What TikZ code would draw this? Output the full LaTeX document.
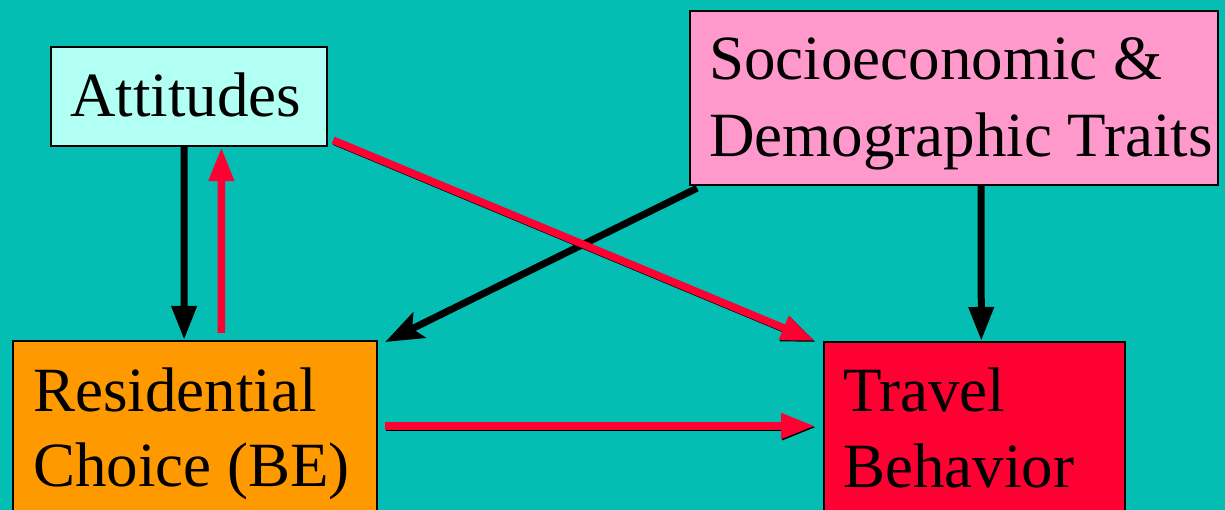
\documentclass[tikz,border=0pt]{standalone}
\usepackage{fontspec}
\setmainfont{Liberation Serif}
\usetikzlibrary{arrows.meta,calc}
\definecolor{bgteal}{RGB}{4,190,180}
\definecolor{attfill}{RGB}{178,255,244}
\definecolor{socfill}{RGB}{255,153,204}
\definecolor{resfill}{RGB}{255,153,0}
\definecolor{travfill}{RGB}{255,0,51}
\definecolor{arrred}{RGB}{255,0,51}
\tikzset{
  box/.style={draw=black, line width=2.2pt, inner sep=0pt, anchor=north west},
  lbl/.style={anchor=base west, inner sep=0pt, font=\fontsize{63}{77}\selectfont, text=black},
  blackarr/.style={draw=black, line width=7pt, -{Triangle[length=34pt,width=24pt]}},
  blackdiag/.style={draw=black, line width=7pt, -{Stealth[length=38pt,width=28pt,inset=8pt]}},
  redarr/.style={draw=arrred, line width=7.5pt, -{Triangle[length=34pt,width=24pt]}},
  redshadow/.style={preaction={draw=black, line width=7.5pt, transform canvas={shift={(1.2pt,-1.2pt)}}}},
}
\begin{document}
\begin{tikzpicture}[x=1pt,y=1pt]
\useasboundingbox (0,0) rectangle (1225,510);
\clip (0,0) rectangle (1225,510);
\fill[bgteal] (0,0) rectangle (1225,510);

% boxes (image coords: y_tikz = 510 - y_img)
\node[box, fill=attfill, minimum width=276pt, minimum height=99pt] (att) at (50,464) {};
\node[box, fill=socfill, minimum width=528pt, minimum height=174pt] (soc) at (689,500) {};
\node[box, fill=resfill, minimum width=364pt, minimum height=200pt] (res) at (12,170) {};
\node[box, fill=travfill, minimum width=301pt, minimum height=200pt] (trav) at (823,169) {};

% labels
\node[lbl] (attT) at (70,393) {Attitudes};
\node[lbl] (socT1) at (709,430) {Socioeconomic \&};
\node[lbl] (socT2) at (709,353) {Demographic Traits};
\node[lbl] (resT1) at (33,98) {Residential};
\node[lbl] (resT2) at (33,23) {Choice (BE)};
\node[lbl] (travT1) at (843,98) {Travel};
\node[lbl] (travT2) at (843,22) {Behavior};

% connector end points
\coordinate (a1) at ($(att.south west)!0.482!(att.south east)$);
\coordinate (r1) at ($(res.north west)!0.470!(res.north east)$);
\coordinate (a2) at ($(att.south west)!0.616!(att.south east)$);
\coordinate (r2) at ($(res.north west)!0.572!(res.north east)+(0,7)$);
\coordinate (a3) at ($(att.south east)+(5,7)$);
\coordinate (t3) at ($(trav.north west)+(-8,0)$);
\coordinate (s4) at ($(soc.south west)+(8,-2)$);
\coordinate (r4) at ($(res.north east)+(7,-2)$);
\coordinate (s5) at ($(soc.south west)!0.551!(soc.south east)$);
\coordinate (t5) at ($(trav.north west)!0.522!(trav.north east)$);
\coordinate (r6) at ($(res.north east)+(7,-86)$);
\coordinate (t6) at ($(trav.north west)+(-8,-85)$);

% connectors
\draw[blackarr] (a1) -- (r1);
\draw[redarr] (r2) -- (a2);
\draw[blackdiag] (s4) -- (r4);
\draw[redarr, redshadow] (a3) -- (t3);
\draw[blackarr] (s5) -- (t5);
\draw[redarr, redshadow] (r6) -- (t6);
\end{tikzpicture}
\end{document}
